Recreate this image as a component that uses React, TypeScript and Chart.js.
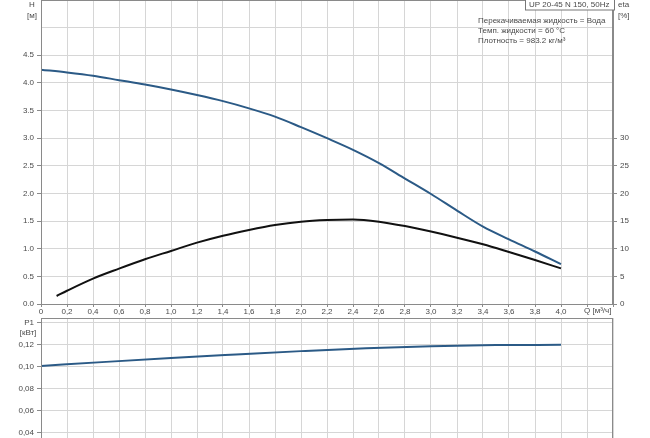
import React, { useEffect, useRef } from "react";
import { Chart, registerables } from "chart.js";

Chart.register(...registerables);

const Q_H = [0, 0.2, 0.4, 0.6, 0.8, 1.0, 1.2, 1.4, 1.6, 1.8, 2.0, 2.2, 2.4, 2.6, 2.8, 3.0, 3.2, 3.4, 3.6, 3.8, 4.0];
const H_VALUES = [4.24, 4.19, 4.13, 4.05, 3.97, 3.88, 3.78, 3.67, 3.54, 3.39, 3.2, 3.0, 2.79, 2.55, 2.27, 1.99, 1.69, 1.4, 1.17, 0.95, 0.72];

const Q_ETA = [0.12, 0.2, 0.4, 0.6, 0.8, 1.0, 1.2, 1.4, 1.6, 1.8, 2.0, 2.2, 2.4, 2.6, 2.8, 3.0, 3.2, 3.4, 3.6, 3.8, 4.0];
const ETA_VALUES = [1.45, 2.4, 4.6, 6.4, 8.1, 9.6, 11.1, 12.35, 13.4, 14.3, 14.9, 15.2, 15.3, 14.9, 14.1, 13.1, 12.0, 10.8, 9.4, 7.95, 6.45];

const Q_P1 = [0, 0.5, 1.0, 1.5, 2.0, 2.5, 3.0, 3.5, 4.0];
const P1_VALUES = [0.1008, 0.1045, 0.108, 0.1112, 0.1143, 0.117, 0.1188, 0.1198, 0.12];

const PUMP_TITLE = "UP 20-45 N 150, 50Hz";
const INFO_LINES = ["Перекачиваемая жидкость = Вода", "Темп. жидкости = 60 °C", "Плотность = 983.2 кг/м³"];

const FONT = "'Liberation Sans', Arial, sans-serif";
const TEXT = "#4a4a4a";
const GRID = "#d6d6d6";
const AXIS = "#8a8a8a";
const BLUE = "#2b5a86";

const pts = (xs: number[], ys: number[]) => xs.map((x, i) => ({ x, y: ys[i] }));
const fixFit = (w?: number, h?: number) => (s: any) => {
  if (w !== undefined) s.width = w;
  if (h !== undefined) s.height = h;
  s.paddingTop = 0;
  s.paddingBottom = 0;
  s.paddingLeft = 0;
  s.paddingRight = 0;
};

const borderPlugin = {
  id: "borderBox",
  afterDraw(chart: any) {
    const { ctx, chartArea: a } = chart;
    ctx.save();
    ctx.strokeStyle = AXIS;
    ctx.lineWidth = 1;
    ctx.strokeRect(a.left + 0.5, a.top + 0.5, a.right - a.left - 1, a.bottom - a.top);
    ctx.restore();
  },
};

const topTextPlugin = {
  id: "topText",
  afterDraw(chart: any) {
    const { ctx } = chart;
    ctx.save();
    ctx.font = `8px ${FONT}`;
    ctx.fillStyle = TEXT;
    ctx.textBaseline = "middle";
    ctx.textAlign = "center";
    ctx.fillText("H", 32, 5);
    ctx.fillText("[м]", 32, 16);
    ctx.textAlign = "left";
    ctx.fillText("eta", 618, 5);
    ctx.fillText("[%]", 618, 16);
    ctx.fillText("Q [м³/ч]", 584, 311);
    INFO_LINES.forEach((t, i) => ctx.fillText(t, 478, 21 + i * 10));
    // title box
    ctx.fillStyle = "#fff";
    ctx.fillRect(525, -1, 89, 11);
    ctx.strokeStyle = "#777";
    ctx.lineWidth = 1;
    ctx.strokeRect(525.5, -1, 89, 11);
    ctx.fillStyle = TEXT;
    ctx.fillText(PUMP_TITLE, 529, 5);
    ctx.restore();
  },
};

const bottomTextPlugin = {
  id: "bottomText",
  afterDraw(chart: any) {
    const { ctx } = chart;
    ctx.save();
    ctx.font = `8px ${FONT}`;
    ctx.fillStyle = TEXT;
    ctx.textBaseline = "middle";
    ctx.textAlign = "center";
    ctx.fillText("[кВт]", 28, 17);
    ctx.restore();
  },
};

const fmtQ = (v: number) => {
  const r = Math.round(v * 10) / 10;
  if (r >= 4.15) return "";
  if (r === 0) return "0";
  return r.toFixed(1).replace(".", ",");
};

export default function App() {
  const topRef = useRef<HTMLCanvasElement>(null);
  const botRef = useRef<HTMLCanvasElement>(null);

  useEffect(() => {
    Chart.defaults.font.family = FONT;
    Chart.defaults.font.size = 8;
    Chart.defaults.color = TEXT;

    const top = new Chart(topRef.current as HTMLCanvasElement, {
      type: "line",
      data: {
        datasets: [
          {
            data: pts(Q_H, H_VALUES),
            borderColor: BLUE,
            borderWidth: 2,
            pointRadius: 0,
            cubicInterpolationMode: "monotone",
            yAxisID: "y",
          },
          {
            data: pts(Q_ETA, ETA_VALUES),
            borderColor: "#111",
            borderWidth: 2,
            pointRadius: 0,
            cubicInterpolationMode: "monotone",
            yAxisID: "y2",
          },
        ],
      },
      options: {
        animation: false,
        responsive: false,
        devicePixelRatio: 1,
        layout: { autoPadding: false, padding: 0 },
        plugins: { legend: { display: false }, tooltip: { enabled: false } },
        scales: {
          x: {
            type: "linear",
            min: 0,
            max: 4.4,
            ticks: { stepSize: 0.2, callback: (v: any) => fmtQ(Number(v)), maxRotation: 0, autoSkip: false, padding: 0 },
            grid: { color: GRID, tickLength: 3, tickColor: AXIS },
            border: { color: AXIS },
            afterFit: fixFit(undefined, 12),
          },
          y: {
            type: "linear",
            position: "left",
            min: 0,
            max: 5.5,
            ticks: {
              stepSize: 0.5,
              padding: 3,
              callback: (v: any) => (Number(v) <= 4.5 ? Number(v).toFixed(1) : ""),
            },
            grid: {
              color: GRID,
              tickLength: 4,
              tickColor: (c: any) => (c.tick && c.tick.value <= 4.5 ? AXIS : "rgba(0,0,0,0)"),
            },
            border: { color: AXIS },
            afterFit: fixFit(41),
          },
          y2: {
            type: "linear",
            position: "right",
            min: 0,
            max: 55,
            ticks: {
              stepSize: 5,
              padding: 3,
              callback: (v: any) => (Number(v) <= 30 ? String(v) : ""),
            },
            grid: {
              drawOnChartArea: false,
              tickLength: 4,
              tickColor: (c: any) => (c.tick && c.tick.value <= 30 ? AXIS : "rgba(0,0,0,0)"),
            },
            border: { color: AXIS },
            afterFit: fixFit(37),
          },
        },
      } as any,
      plugins: [borderPlugin, topTextPlugin],
    });

    const bot = new Chart(botRef.current as HTMLCanvasElement, {
      type: "line",
      data: {
        datasets: [
          {
            data: pts(Q_P1, P1_VALUES),
            borderColor: BLUE,
            borderWidth: 2,
            pointRadius: 0,
            cubicInterpolationMode: "monotone",
          },
        ],
      },
      options: {
        animation: false,
        responsive: false,
        devicePixelRatio: 1,
        layout: { autoPadding: false, padding: { top: 2, right: 37, left: 0, bottom: 0 } },
        plugins: { legend: { display: false }, tooltip: { enabled: false } },
        scales: {
          x: {
            type: "linear",
            min: 0,
            max: 4.4,
            ticks: { stepSize: 0.2, display: false },
            grid: { color: GRID, tickLength: 3, tickColor: AXIS },
            border: { color: AXIS },
            afterFit: fixFit(undefined, 19.5),
          },
          y: {
            type: "linear",
            min: 0,
            max: 0.1445,
            ticks: {
              stepSize: 0.02,
              padding: 3,
              includeBounds: false,
              callback: (v: any) => {
                const r = Math.round(Number(v) * 100) / 100;
                if (r === 0.14) return "P1";
                return r.toFixed(2).replace(".", ",");
              },
            },
            grid: { color: GRID, tickLength: 4, tickColor: AXIS },
            border: { color: AXIS },
            afterFit: fixFit(41),
          },
        },
      } as any,
      plugins: [borderPlugin, bottomTextPlugin],
    });

    return () => {
      top.destroy();
      bot.destroy();
    };
  }, []);

  return (
    <div style={{ position: "absolute", left: 0, top: 0, width: 650, height: 438, overflow: "hidden", background: "#fff" }}>
      <canvas ref={topRef} width={650} height={316} style={{ position: "absolute", left: 0, top: 0, width: 650, height: 316 }} />
      <canvas ref={botRef} width={650} height={180} style={{ position: "absolute", left: 0, top: 316, width: 650, height: 180 }} />
    </div>
  );
}
